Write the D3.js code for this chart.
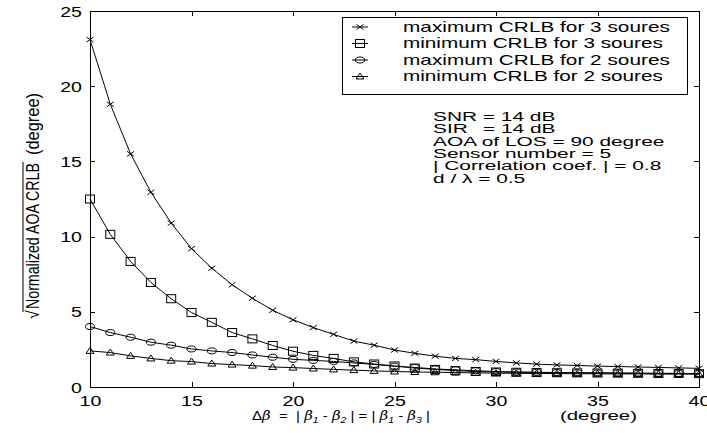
<!DOCTYPE html>
<html><head><meta charset="utf-8">
<script src="https://cdn.jsdelivr.net/npm/d3@7"></script>
<style>
body{margin:0;background:#fff}
svg{display:block}
text{font-family:"Liberation Sans",Arial,sans-serif;fill:#000}
</style>
</head><body>
<svg id="c" width="707" height="437"></svg>
<script>
// ---- data ----
const deltaBeta = [10,11,12,13,14,15,16,17,18,19,20,21,22,23,24,25,26,27,28,29,30,31,32,33,34,35,36,37,38,39,40];
const max3Sources = [23.1,18.8,15.5,12.95,10.9,9.2,7.9,6.8,5.9,5.1,4.47,3.95,3.5,3.05,2.78,2.46,2.24,2.05,1.9,1.82,1.7,1.6,1.52,1.47,1.43,1.39,1.36,1.33,1.3,1.27,1.24];
const min3Sources = [12.5,10.15,8.35,6.95,5.87,4.95,4.3,3.62,3.2,2.76,2.38,2.1,1.9,1.67,1.53,1.4,1.26,1.17,1.09,1.03,1.0,0.98,0.96,0.95,0.94,0.93,0.92,0.91,0.9,0.9,0.89];
const max2Sources = [4.02,3.62,3.31,2.98,2.78,2.53,2.4,2.29,2.13,1.98,1.84,1.77,1.7,1.6,1.5,1.38,1.3,1.2,1.14,1.08,1.03,1.0,0.98,0.96,0.95,0.94,0.93,0.92,0.91,0.9,0.9];
const min2Sources = [2.4,2.29,2.07,1.9,1.75,1.69,1.56,1.49,1.42,1.33,1.29,1.23,1.17,1.12,1.07,1.03,1.0,0.98,0.96,0.94,0.92,0.91,0.9,0.89,0.88,0.88,0.87,0.87,0.86,0.86,0.85];
const seriesNames = ["maximum CRLB for 3 soures","minimum CRLB for 3 soures","maximum CRLB for 2 soures","minimum CRLB for 2 soures"];
const seriesMarkers = ["x","square","circle","triangle"];
const xTicks = [10,15,20,25,30,35,40];
const yTicks = [0,5,10,15,20,25];
const notes = ["SNR = 14 dB","SIR","= 14 dB","AOA of LOS = 90 degree","Sensor number = 5","| Correlation coef. | = 0.8","d / \u03bb = 0.5"];

// ---- layout ----
const svg = d3.select('#c');
const M = {l:90, r:699, t:11, b:387};
const x = d3.scaleLinear().domain([10,40]).range([M.l, M.r]);
const y = d3.scaleLinear().domain([0,25]).range([M.b, M.t]);
const SX = 1.4;

function fitText(g, str, tx, ty, w, size, sy) {
  const t = g.append('text').attr('font-size', size).text(str);
  const L = t.node().getBBox().width;
  t.attr('transform', `translate(${tx},${ty}) scale(${w/L},${sy||1})`);
  return t;
}
function scaledText(g, str, tx, ty, s, size) {
  return g.append('text').attr('font-size', size).text(str)
    .attr('transform', `translate(${tx},${ty}) scale(${s},1)`);
}

// axes
const axG = svg.append('g').attr('shape-rendering','crispEdges');
const bottom = axG.append('g').attr('transform',`translate(0,${M.b})`)
  .call(d3.axisBottom(x).tickValues(xTicks).tickSizeInner(-5).tickSizeOuter(0).tickFormat(d3.format('d')));
const left = axG.append('g').attr('transform',`translate(${M.l},0)`)
  .call(d3.axisLeft(y).tickValues(yTicks).tickSizeInner(-5).tickSizeOuter(0).tickFormat(d3.format('d')));
axG.append('g').attr('transform',`translate(0,${M.t})`)
  .call(d3.axisTop(x).tickValues(xTicks).tickSizeInner(-5).tickSizeOuter(0).tickFormat(''));
axG.append('g').attr('transform',`translate(${M.r},0)`)
  .call(d3.axisRight(y).tickValues(yTicks).tickSizeInner(-5).tickSizeOuter(0).tickFormat(''));
axG.selectAll('.domain, .tick line').attr('stroke','#000').attr('stroke-width',1);
axG.selectAll('text').attr('fill','#000').attr('font-family','"Liberation Sans",Arial,sans-serif').attr('font-size',14);
bottom.selectAll('text').attr('y',19).attr('dy',0).attr('transform',`scale(${SX},1)`);
left.selectAll('text').attr('x',-8/SX).attr('dy','0.36em').attr('transform',`scale(${SX},1)`);

// markers
function drawMarker(g, type, cx, cy) {
  if (type==='x') g.append('path').attr('d',`M${cx-3.5},${cy-2.5}L${cx+3.5},${cy+2.5}M${cx-3.5},${cy+2.5}L${cx+3.5},${cy-2.5}`);
  else if (type==='square') g.append('rect').attr('x',cx-4.5).attr('y',cy-4).attr('width',9).attr('height',8);
  else if (type==='circle') g.append('ellipse').attr('cx',cx).attr('cy',cy).attr('rx',4.5).attr('ry',3);
  else g.append('path').attr('d',`M${cx},${cy-3.5}L${cx+4},${cy+2.5}L${cx-4},${cy+2.5}Z`);
}

const allSeries = [max3Sources, min3Sources, max2Sources, min2Sources];
const line = d3.line().x(d=>x(d[0])).y(d=>y(d[1]));
const plot = svg.append('g').attr('fill','none').attr('stroke','#000').attr('stroke-width',1);
allSeries.forEach((vals,i)=>{
  const pts = deltaBeta.map((d,j)=>[d, vals[j]]);
  plot.append('path').attr('d', line(pts));
  const mg = plot.append('g');
  pts.forEach(p=>drawMarker(mg, seriesMarkers[i], x(p[0]), y(p[1])));
});

// legend
const lg = svg.append('g');
lg.append('rect').attr('x',342).attr('y',17).attr('width',345).attr('height',77)
  .attr('fill','#fff').attr('stroke','#000').attr('stroke-width',1).attr('shape-rendering','crispEdges');
const legW = [267,260,267,260];
seriesNames.forEach((n,i)=>{
  const by = 31.5 + i*16.5;
  const cy = by - 4.5;
  const sg = lg.append('g').attr('fill','none').attr('stroke','#000');
  sg.append('line').attr('x1',352).attr('x2',368).attr('y1',cy).attr('y2',cy);
  drawMarker(sg, seriesMarkers[i], 360, cy);
  fitText(lg, n, 403, by, legW[i], 14);
});

// annotations (uniform horizontal stretch)
const ag = svg.append('g');
const probe = ag.append('text').attr('font-size',12).text(notes[3]);
const NS = 232 / probe.node().getBBox().width;
probe.remove();
const noteY = [121, 133.3, 145.6, 158, 170.2, 182.5];
scaledText(ag, notes[0], 433, noteY[0], NS, 12);
scaledText(ag, notes[1], 433, noteY[1], NS, 12);
scaledText(ag, notes[2], 483, noteY[1], NS, 12);
scaledText(ag, notes[3], 433, noteY[2], NS, 12);
scaledText(ag, notes[4], 433, noteY[3], NS, 12);
scaledText(ag, notes[5], 433, noteY[4], NS, 12);
scaledText(ag, notes[6], 433, noteY[5], NS, 12);

// x label
const xl = svg.append('text').attr('font-size',13);
const parts = [["\u0394",0,0],["\u03b2",1,0],["  =  | ",0,0],["\u03b2",1,0],["1",0,1],[" - ",0,-1],["\u03b2",1,0],["2",0,1],[" | = | ",0,-1],["\u03b2",1,0],["1",0,1],[" - ",0,-1],["\u03b2",1,0],["3",0,1],[" |",0,-1]];
parts.forEach(p=>{
  const ts = xl.append('tspan').text(p[0]).style('white-space','pre');
  if (p[1]) ts.attr('font-style','italic').attr('font-family','"DejaVu Serif",serif');
  if (p[2]===1) ts.attr('dy',3).attr('font-size',9).attr('font-style','italic');
  if (p[2]===-1) ts.attr('dy',-3);
});
{
  const L = xl.node().getBBox().width;
  xl.attr('transform',`translate(252,420) scale(${178/L},1)`);
}
fitText(svg, "(degree)", 560, 420, 77, 13);

// y label (rotated)
const yl = svg.append('g').attr('transform','translate(39,0) rotate(-90)');
fitText(yl, "\u221a", -319, 0, 9, 14, 1.3);
fitText(yl, "Normalized AOA CRLB", -309, 0, 146, 14, 1.3);
fitText(yl, "(degree)", -155, 0, 62, 14, 1.3);
yl.append('line').attr('x1',-312).attr('x2',-162).attr('y1',-16).attr('y2',-16).attr('stroke','#000').attr('stroke-width',1);
</script>
</body></html>
